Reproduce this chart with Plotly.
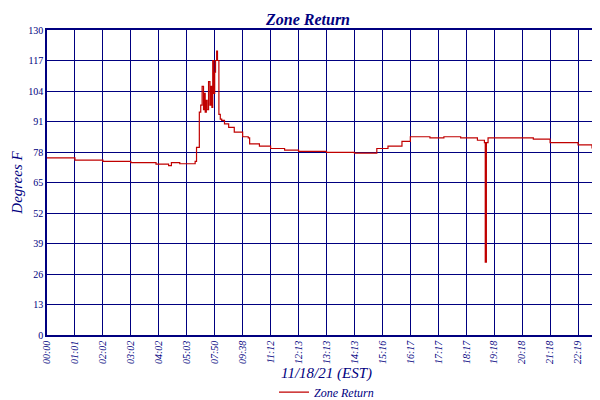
import plotly.graph_objects as go

# x in tick-interval units (samples are not evenly spaced in time)
tick_labels = ["00:00", "01:01", "02:02", "03:02", "04:02", "05:03", "07:50", "09:38",
               "11:12", "12:13", "13:13", "14:13", "15:16", "16:17", "17:17", "18:17",
               "19:18", "20:18", "21:18", "22:19", "23:19", "23:59"]
tick_pos = list(range(20)) + [19.93, 20]

x_vals = [0.0, 1.0, 2.0, 3.0, 3.9, 4.35, 4.45, 4.75, 5.3, 5.35, 5.45, 5.5, 5.55,
          5.6, 5.63, 5.66, 5.7, 5.73, 5.78, 5.83, 5.87, 5.9, 5.93, 5.97, 6.0,
          6.03, 6.07, 6.1, 6.15, 6.2, 6.25, 6.35, 6.5, 6.7, 7.0, 7.2, 7.25,
          7.6, 8.0, 8.5, 9.0, 10.0, 11.0, 11.75, 11.8, 12.2, 12.7, 13.0, 13.3,
          13.7, 14.2, 14.8, 15.4, 15.65, 15.68, 15.72, 15.78, 16.0, 17.0, 17.4,
          18.0, 19.0, 19.5, 20.0]
y_vals = [75.5, 74.5, 74.0, 73.5, 72.8, 72.2, 73.5, 73.0, 74.0, 80.0, 95.0, 98.0,
          106.0, 96.0, 103.0, 95.0, 100.0, 96.0, 108.0, 98.0, 106.0, 97.0, 117.0,
          103.0, 112.0, 117.0, 121.0, 117.0, 94.0, 92.0, 91.5, 90.0, 88.5, 86.5,
          84.5, 84.0, 81.5, 80.5, 79.5, 78.8, 78.3, 77.8, 77.5, 77.5, 79.5, 80.5,
          82.5, 84.5, 84.5, 84.0, 84.5, 84.0, 83.0, 82.0, 31.0, 82.0, 84.0, 84.0,
          84.0, 83.5, 82.0, 81.0, 79.8, 79.0]

y_ticks = [0, 13, 26, 39, 52, 65, 78, 91, 104, 117, 130]

navy = "#000080"
fnt = "Liberation Serif"

fig = go.Figure()
fig.add_trace(go.Scatter(x=x_vals, y=y_vals, mode="lines", name="Zone Return",
                         line=dict(color="#c00000", width=1.2, shape="hv")))
fig.update_layout(
    width=600, height=400, plot_bgcolor="white", paper_bgcolor="white",
    margin=dict(l=39, r=2, t=22, b=67),
    title=dict(text="<b><i>Zone Return</i></b>", x=0.5, xanchor="center", y=0.985,
               yanchor="top", font=dict(family=fnt, size=16, color=navy)),
    showlegend=True,
    legend=dict(orientation="h", x=0.5, xanchor="center", y=-0.187, yanchor="middle",
                font=dict(family=fnt, size=12, color=navy, style="italic")),
    xaxis=dict(range=[0, 20], tickvals=tick_pos, ticktext=tick_labels, tickangle=-90,
               automargin=False, showgrid=True, gridcolor=navy, gridwidth=1,
               showline=True, linecolor=navy, linewidth=1.5, mirror=True, zeroline=False,
               tickfont=dict(family=fnt, size=10, color=navy, style="italic"),
               title=dict(text="<i>11/18/21 (EST)</i>", standoff=4,
                          font=dict(family=fnt, size=15, color=navy))),
    yaxis=dict(range=[0, 130], tickvals=y_ticks, showgrid=True, gridcolor=navy,
               automargin=False, gridwidth=1, showline=True, linecolor=navy,
               linewidth=1.5, mirror=True, zeroline=False,
               tickfont=dict(family=fnt, size=10, color=navy),
               title=dict(text="<i>Degrees F</i>", standoff=2,
                          font=dict(family=fnt, size=15, color=navy))),
)
fig.write_html("out.html")
